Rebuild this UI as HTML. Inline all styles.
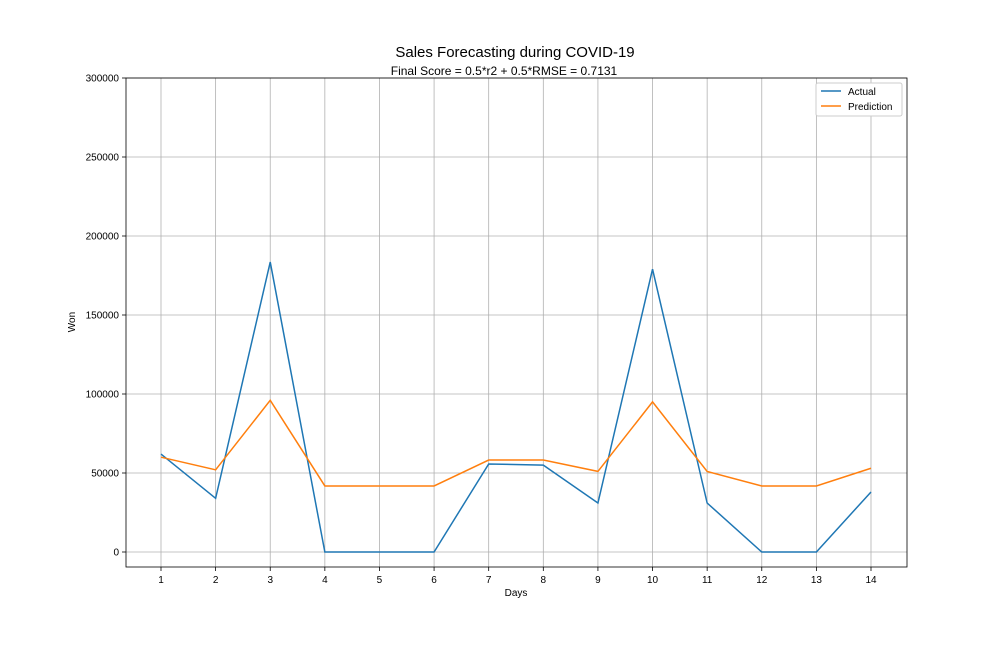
<!DOCTYPE html>
<html><head><meta charset="utf-8"><style>
body{margin:0;background:#fff}
svg text{font-family:"Liberation Sans","DejaVu Sans",sans-serif;fill:#000}
</style></head><body>
<svg id="c" width="1008" height="648" xmlns="http://www.w3.org/2000/svg"></svg>
<script>
const days=[1,2,3,4,5,6,7,8,9,10,11,12,13,14];
const actual=[62000,34000,183500,0,0,0,55700,55000,31000,179000,31000,0,0,38000];
const prediction=[60000,52000,96000,41800,41800,41800,58200,58200,51000,95000,51000,41800,41800,53000];
const yTicks=[0,50000,100000,150000,200000,250000,300000];
const L=126,R=907,T=78,B=567;
const x=d=>161+(d-1)*(710/13);
const y=v=>552-v*(474/300000);
const svg=document.getElementById('c');
const NS='http://www.w3.org/2000/svg';
function mk(tag,a,parent){const e=document.createElementNS(NS,tag);for(const k in a)e.setAttribute(k,a[k]);(parent||svg).appendChild(e);return e;}
const grid=mk('g',{});


days.forEach(d=>{mk('line',{x1:x(d),x2:x(d),y1:T,y2:B,stroke:'#b0b0b0','stroke-width':0.8},grid);
 mk('line',{x1:x(d),x2:x(d),y1:B,y2:B+4,stroke:'#000','stroke-width':0.8});
 const t=mk('text',{x:x(d),y:B+16,'font-size':10,'text-anchor':'middle'});t.textContent=d;
 
 });
yTicks.forEach(v=>{mk('line',{x1:L,x2:R,y1:y(v),y2:y(v),stroke:'#b0b0b0','stroke-width':0.8},grid);
 mk('line',{x1:L-4,x2:L,y1:y(v),y2:y(v),stroke:'#000','stroke-width':0.8});
 const t=mk('text',{x:L-7,y:y(v)+3.5,'font-size':10,'text-anchor':'end'});t.textContent=v;
 
 });
function line(vals,col,name){const p=mk('polyline',{points:days.map((d,i)=>x(d)+','+y(vals[i])).join(' '),fill:'none',stroke:col,'stroke-width':1.5});
 
 }
line(actual,'#1f77b4','actual-line');
line(prediction,'#ff7f0e','prediction-line');
const fr=mk('rect',{x:L,y:T,width:R-L,height:B-T,fill:'none',stroke:'#000','stroke-width':0.8});


function txt(s,a,name){const t=mk('text',a);t.textContent=s;return t;}
txt('Sales Forecasting during COVID-19',{x:515,y:57,'font-size':15,'text-anchor':'middle'},'chart-title');
txt('Final Score = 0.5*r2 + 0.5*RMSE = 0.7131',{x:504,y:75,'font-size':12,'text-anchor':'middle'},'chart-subtitle');
txt('Days',{x:516,y:596,'font-size':10,'text-anchor':'middle'},'x-axis-title');
const yt=txt('Won',{x:75,y:322,'font-size':10,'text-anchor':'middle',transform:'rotate(-90 75 322)'},'y-axis-title');
const lg=mk('g',{});


mk('rect',{x:816,y:83,width:86,height:33,fill:'#fff',stroke:'#ccc',rx:2},lg);
mk('line',{x1:821,x2:841,y1:91,y2:91,stroke:'#1f77b4','stroke-width':1.5},lg);
mk('line',{x1:821,x2:841,y1:106,y2:106,stroke:'#ff7f0e','stroke-width':1.5},lg);
const a=mk('text',{x:848,y:95,'font-size':10},lg);a.textContent='Actual';


const b=mk('text',{x:848,y:110,'font-size':10},lg);b.textContent='Prediction';


</script>
</body></html>
